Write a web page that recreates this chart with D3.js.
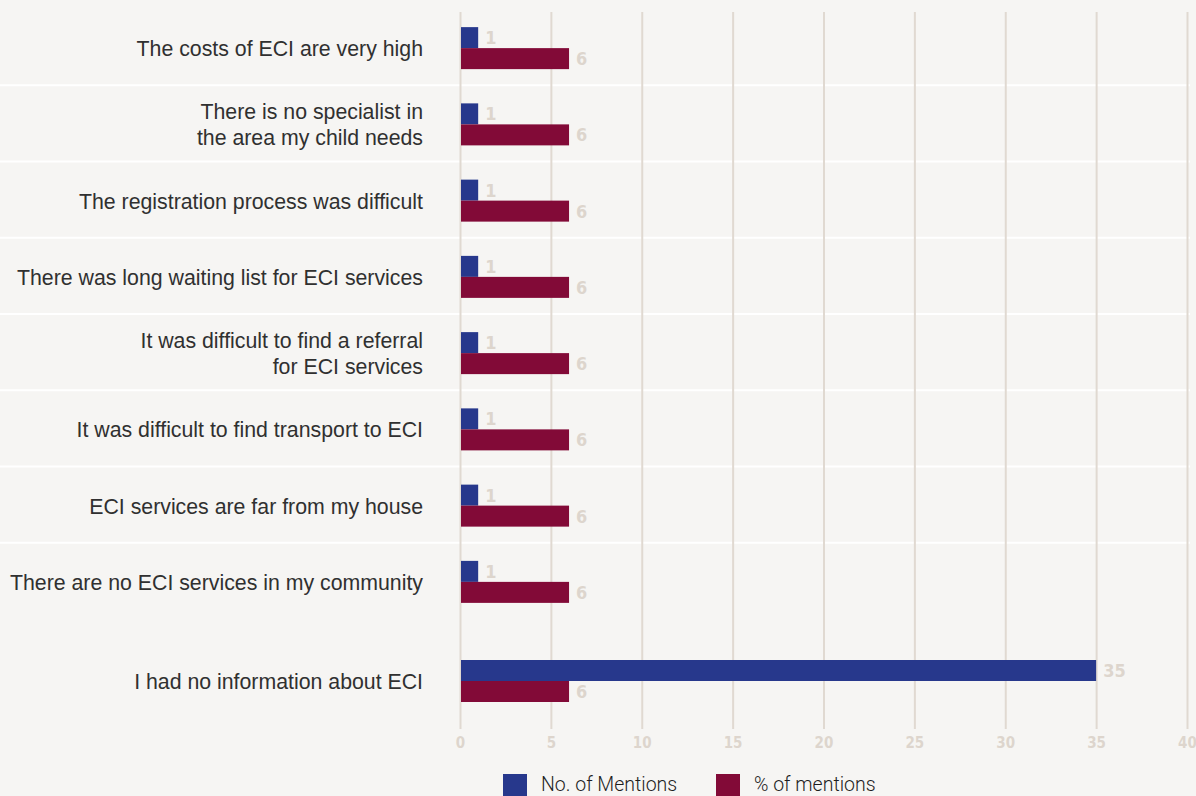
<!DOCTYPE html>
<html>
<head>
<meta charset="utf-8">
<script src="https://cdn.jsdelivr.net/npm/d3@7"></script>
<style>
  html, body { margin: 0; padding: 0; background: #f6f5f3; }
  svg { display: block; }
</style>
</head>
<body>
<svg id="chart" width="1196" height="796"></svg>
<script>
// Reasons for not using ECI services
const categories = [
  "The costs of ECI are very high",
  "There is no specialist in\nthe area my child needs",
  "The registration process was difficult",
  "There was long waiting list for ECI services",
  "It was difficult to find a referral\nfor ECI services",
  "It was difficult to find transport to ECI",
  "ECI services are far from my house",
  "There are no ECI services in my community",
  "I had no information about ECI"
];
const mentions = [1, 1, 1, 1, 1, 1, 1, 1, 35];
const percentMentions = [6, 6, 6, 6, 6, 6, 6, 6, 6];
const seriesNames = ["No. of Mentions", "% of mentions"];
const xTicks = [0, 5, 10, 15, 20, 25, 30, 35, 40];

const colors = ["#27388c", "#820a37"];
const gridColor = "#e0d9d1";
const valueColor = "#ddd5cd";
const narrowFont = "'Liberation Sans Narrow', 'DejaVu Sans Condensed', Arial, sans-serif";

const svg = d3.select("#chart");
const W = 1196, H = 796;

svg.append("rect").attr("width", W).attr("height", H).attr("fill", "#f6f5f3");

const x = d3.scaleLinear().domain([0, 40]).range([460, 1187]);

// The last reason sits in its own, wider block below the others
const mainCats = categories.slice(0, 8);
const yMain = d3.scaleBand().domain(mainCats).range([10, 620]);
const yLast = d3.scaleBand().domain(categories.slice(8)).range([620, 742]);
const rowCenter = c => mainCats.includes(c)
  ? yMain(c) + yMain.bandwidth() / 2
  : yLast(c) + yLast.bandwidth() / 2;
const barH = 21;

// row separators
const seps = mainCats.slice(1).map(c => yMain(c) - 1);
svg.append("g").selectAll("line").data(seps).join("line")
  .attr("x1", 0).attr("x2", 1190)
  .attr("y1", d => d).attr("y2", d => d)
  .attr("stroke", "#ffffff").attr("stroke-width", 2);

// vertical gridlines + tick labels
const xAxis = d3.axisBottom(x).tickValues(xTicks).tickSize(-(729 - 12)).tickPadding(8);
const gx = svg.append("g").attr("transform", "translate(0,729)").call(xAxis);
gx.select(".domain").remove();
gx.selectAll(".tick line").attr("stroke", gridColor).attr("stroke-width", 2);
gx.selectAll(".tick text")
  .attr("fill", valueColor)
  .attr("font-family", narrowFont)
  .attr("font-weight", "bold")
  .attr("font-size", 15);

// category labels
const labels = svg.append("g").attr("font-family", "'Liberation Sans', Arial, sans-serif")
  .attr("font-size", 21.3).attr("fill", "#303030")
  .attr("text-anchor", "end");
categories.forEach(c => {
  const lines = c.split("\n");
  const lh = 26;
  const cy = rowCenter(c);
  const t = labels.append("text").attr("x", 423);
  lines.forEach((ln, i) => {
    t.append("tspan").attr("x", 423)
      .attr("y", cy + (i - (lines.length - 1) / 2) * lh)
      .attr("dy", "0.37em").text(ln);
  });
});

// bars
const series = [mentions, percentMentions];
series.forEach((vals, s) => {
  const g = svg.append("g");
  g.selectAll("rect").data(categories).join("rect")
    .attr("x", x(0) + 1)
    .attr("y", (c) => rowCenter(c) - (s === 0 ? barH : 0))
    .attr("width", (c, i) => x(vals[i]) - x(0) - 1)
    .attr("height", barH)
    .attr("fill", colors[s]);
  g.selectAll("text").data(categories).join("text")
    .attr("x", (c, i) => x(vals[i]) + 7)
    .attr("y", (c) => rowCenter(c) + (s === 0 ? -barH / 2 : barH / 2))
    .attr("dy", "0.36em")
    .attr("fill", valueColor)
    .attr("font-family", narrowFont)
    .attr("font-weight", "bold")
    .attr("font-size", 18)
    .text((c, i) => d3.format("d")(vals[i]));
});

// legend
const legendX = [503, 716];
const lg = svg.append("g");
seriesNames.forEach((n, i) => {
  lg.append("rect").attr("x", legendX[i]).attr("y", 774).attr("width", 24).attr("height", 24)
    .attr("fill", colors[i]);
  lg.append("text").attr("x", legendX[i] + 38).attr("y", 791)
    .attr("font-family", "Roboto, Arial, sans-serif")
    .attr("font-weight", 300)
    .attr("font-size", 19.5).attr("fill", "#1e1e1e").text(n);
});
</script>
</body>
</html>
